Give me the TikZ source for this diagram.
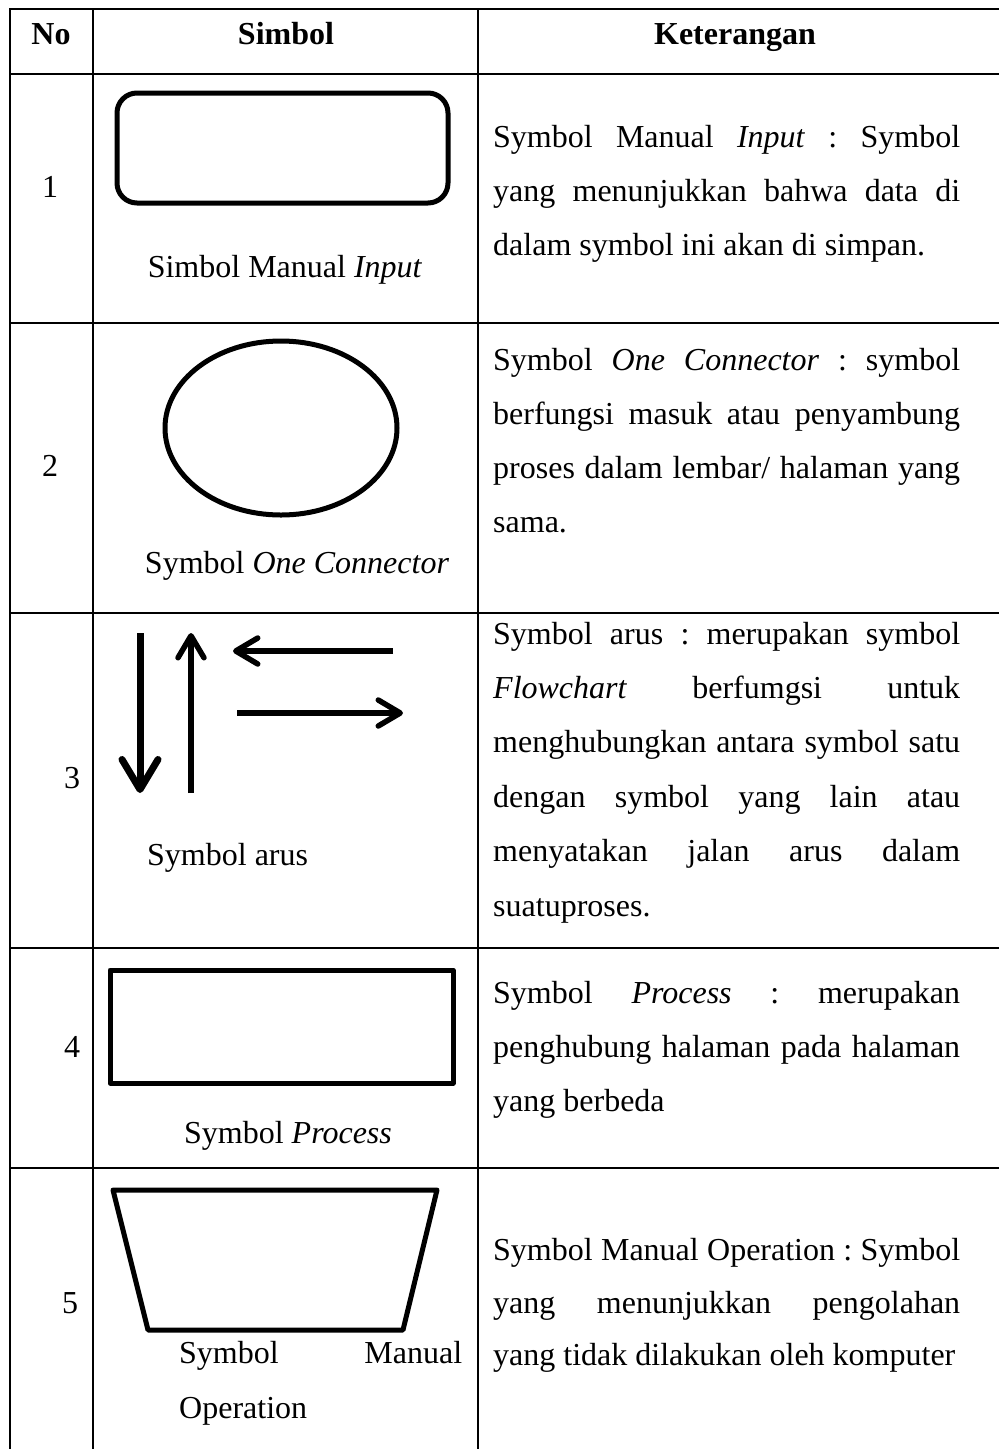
\documentclass[tikz,border=0pt]{standalone}
\usepackage{fontspec}
\setmainfont{Liberation Serif}
\usetikzlibrary{arrows.meta}
\frenchspacing

% eine Zeile im Blocksatz (Spalte Keterangan)
\newcommand{\jline}[1]{\makebox[467pt][s]{#1}}

\begin{document}
\begin{tikzpicture}[x=1pt,y=-1pt,
    tbl/.style={line width=2pt,line cap=rect},
    sym/.style={line width=5pt,line join=round},
    txt/.style={anchor=base west,inner sep=0pt,font=\fontsize{32}{38}\selectfont},
    ctr/.style={anchor=base,inner sep=0pt,font=\fontsize{32}{38}\selectfont},
    hdr/.style={anchor=base,inner sep=0pt,font=\fontsize{32}{38}\selectfont\bfseries}]
  \useasboundingbox (0,0) rectangle (999,1449);

  % Tabellenlinien
  \foreach \y in {9,74,323,613,948,1168}
    \draw[tbl] (10,\y) -- (1010,\y);
  \foreach \x in {10,93,478}
    \draw[tbl] (\x,9) -- (\x,1460);

  % Kopfzeile
  \node[hdr] (hno)  at (51,44)  {No};
  \node[hdr] (hsym) at (286,44) {Simbol};
  \node[hdr] (hket) at (735,44) {Keterangan};

  % Nummern
  \node[ctr] (n1) at (50,197)  {1};
  \node[ctr] (n2) at (50,476)  {2};
  \node[ctr] (n3) at (72,788)  {3};
  \node[ctr] (n4) at (72,1057) {4};
  \node[ctr] (n5) at (70,1313) {5};

  % Symbole
  \draw[sym,rounded corners=20pt] (117,93) rectangle (448,203);
  \node[ctr] (s1) at (285,277) {Simbol Manual \textit{Input}};

  \draw[sym] (281,428) ellipse [x radius=116pt,y radius=87pt];
  \node[ctr] (s2) at (297,573) {Symbol \textit{One Connector}};

  \draw[line width=7pt,-{Straight Barb[round,length=30pt,width=36pt]}] (140,633) -- (140,793);
  \draw[line width=5.5pt,-{Straight Barb[round,length=22pt,width=26pt]}] (191,793) -- (191,633);
  \draw[line width=5.5pt,-{Straight Barb[round,length=22pt,width=26pt]}] (393,651) -- (233,651);
  \draw[line width=5.5pt,-{Straight Barb[round,length=22pt,width=26pt]}] (237,713) -- (403,713);
  \node[txt] (s3) at (147,865) {Symbol arus};

  \draw[sym] (110,970) rectangle (453,1083);
  \node[ctr] (s4) at (288,1143) {Symbol \textit{Process}};

  \draw[sym] (113,1190) -- (437,1190) -- (403,1330) -- (148,1330) -- cycle;
  \node[txt] (s5a) at (179,1363) {\makebox[283pt]{Symbol\hfill Manual}};
  \node[txt] (s5b) at (179,1418) {Operation};

  % Keterangan
  \node[txt] (k1a) at (493,147) {\jline{Symbol Manual \textit{Input} : Symbol}};
  \node[txt] (k1b) at (493,201) {\jline{yang menunjukkan bahwa data di}};
  \node[txt] (k1c) at (493,255) {dalam symbol ini akan di simpan.};

  \node[txt] (k2a) at (493,370) {\jline{Symbol \textit{One Connector} : symbol}};
  \node[txt] (k2b) at (493,424) {\jline{berfungsi masuk atau penyambung}};
  \node[txt] (k2c) at (493,478) {\jline{proses dalam lembar/ halaman yang}};
  \node[txt] (k2d) at (493,532) {sama.};

  \node[txt] (k3a) at (493,644) {\jline{Symbol arus : merupakan symbol}};
  \node[txt] (k3b) at (493,698) {\jline{\textit{Flowchart} berfumgsi untuk}};
  \node[txt] (k3c) at (493,752) {\jline{menghubungkan antara symbol satu}};
  \node[txt] (k3d) at (493,807) {\jline{dengan symbol yang lain atau}};
  \node[txt] (k3e) at (493,861) {\jline{menyatakan jalan arus dalam}};
  \node[txt] (k3f) at (493,916) {suatuproses.};

  \node[txt] (k4a) at (493,1003) {\jline{Symbol \textit{Process} : merupakan}};
  \node[txt] (k4b) at (493,1057) {\jline{penghubung halaman pada halaman}};
  \node[txt] (k4c) at (493,1111) {yang berbeda};

  \node[txt] (k5a) at (493,1260) {\jline{Symbol Manual Operation : Symbol}};
  \node[txt] (k5b) at (493,1313) {\jline{yang menunjukkan pengolahan}};
  \node[txt] (k5c) at (493,1365) {yang tidak dilakukan oleh komputer};
\end{tikzpicture}
\end{document}
